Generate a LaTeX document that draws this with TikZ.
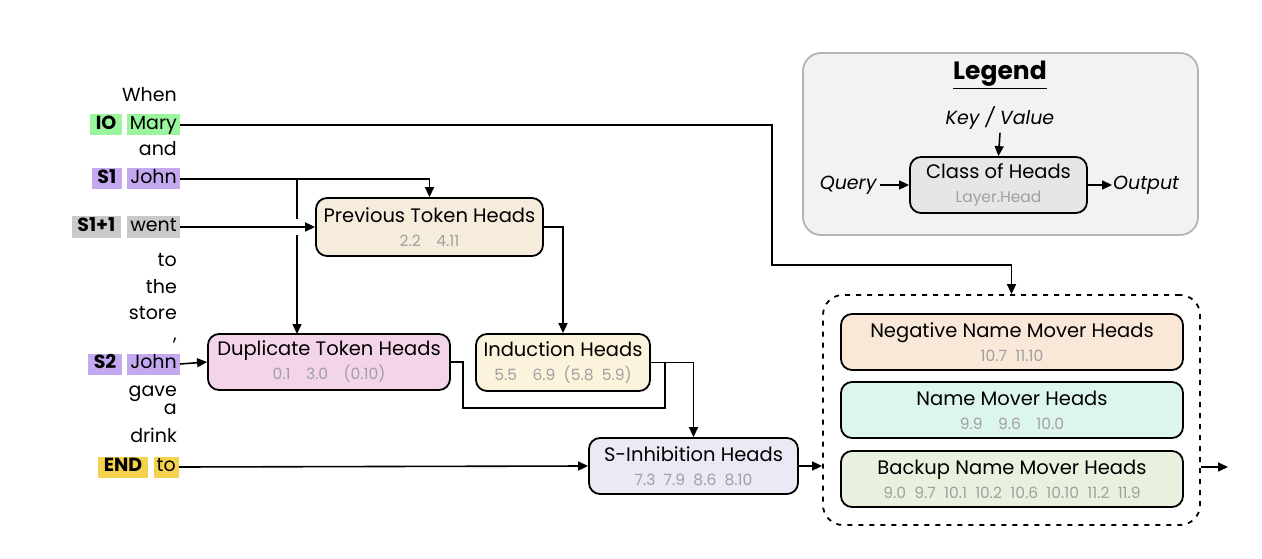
\documentclass[tikz,border=0pt]{standalone}
\usepackage{fontspec}
\setmainfont{Poppins}
\usetikzlibrary{arrows.meta}
\definecolor{numgray}{HTML}{A0A0A0}
\definecolor{ioG}{HTML}{9BF59C}
\definecolor{sP}{HTML}{C4A9F0}
\definecolor{wG}{HTML}{C9C9C9}
\definecolor{endY}{HTML}{F4D24E}
\definecolor{prevF}{HTML}{F6ECDC}
\definecolor{dupF}{HTML}{F3D4E9}
\definecolor{indF}{HTML}{FBF3DB}
\definecolor{sinF}{HTML}{E9EAF4}
\definecolor{negF}{HTML}{F9E7D7}
\definecolor{nmF}{HTML}{DCF6EE}
\definecolor{bkF}{HTML}{E8F1DE}
\definecolor{legF}{HTML}{F2F2F2}
\definecolor{legB}{HTML}{B4B4B4}
\definecolor{clsF}{HTML}{E6E6E6}
\tikzset{
  tok/.style={anchor=east, font=\fontsize{19}{22}\selectfont, inner xsep=3pt, inner ysep=2pt, text height=13pt, text depth=4pt},
  badge/.style={tok, font=\fontsize{19}{22}\selectfont\bfseries, inner xsep=5.5pt},
  headbox/.style={draw, line width=1.8pt, rounded corners=11pt, align=center, font=\fontsize{19.5}{22}\selectfont, inner sep=0pt},
  arr/.style={-{Triangle[length=10pt,width=9pt]}, line width=1.6pt},
  ln/.style={line width=1.6pt},
}
\newcommand{\nums}[1]{\\[2pt]{\color{numgray}\fontsize{15.5}{17}\selectfont #1}}
\begin{document}
\begin{tikzpicture}[x=1pt,y=-1pt]
\useasboundingbox (0,0) rectangle (1262,559);
% tokens
\node[tok] (w1) at (180,97) {When};
\node[tok, fill=ioG] (mary) at (180,125) {Mary};
\node[badge, fill=ioG] (io) at (122,125) {IO};
\node[tok] (and) at (180,151) {and};
\node[tok, fill=sP] (john1) at (180,179) {John};
\node[badge, fill=sP] (s1) at (122,179) {S1};
\node[tok, fill=wG] (went) at (180,227) {went};
\node[badge, fill=wG] (s1p) at (121,227) {S1+1};
\node[tok] (to1) at (180,262) {to};
\node[tok] (the) at (180,289) {the};
\node[tok] (store) at (180,315) {store};
\node[tok] (comma) at (180,336) {,};
\node[tok, fill=sP] (john2) at (180,364) {John};
\node[badge, fill=sP] (s2) at (122,364) {S2};
\node[tok] (gave) at (180,392) {gave};
\node[tok] (a) at (180,410) {a};
\node[tok] (drink) at (180,438) {drink};
\node[tok, fill=endY] (to2) at (179,467) {to};
\node[badge, fill=endY] (endb) at (148,467) {END};

% head boxes
\node[headbox, fill=prevF, minimum width=227pt, minimum height=58pt] (prev) at (429.5,227) {Previous Token Heads\nums{2.2\quad 4.11}};
\node[headbox, fill=dupF, minimum width=242pt, minimum height=56pt] (dup) at (329,362) {Duplicate Token Heads\nums{0.1\quad 3.0\quad (0.10)}};
\node[headbox, fill=indF, minimum width=174pt, minimum height=57pt] (ind) at (563,362.5) {Induction Heads\nums{5.5\quad 6.9\ \ (5.8\ \ 5.9)}};
\node[headbox, fill=sinF, minimum width=209pt, minimum height=56pt] (sin) at (693.5,466) {S-Inhibition Heads\nums{7.3\ \ 7.9\ \ 8.6\ \ 8.10}};

% dashed group
\node[draw, line width=1.8pt, dash pattern=on 5pt off 6pt, rounded corners=20pt, minimum width=377pt, minimum height=230pt] (grp) at (1011.5,410) {};
\node[headbox, fill=negF, minimum width=342pt, minimum height=56pt] (neg) at (1012,342) {Negative Name Mover Heads\nums{10.7\ \ 11.10}};
\node[headbox, fill=nmF, minimum width=342pt, minimum height=56pt] (nm) at (1012,410) {Name Mover Heads\nums{9.9\quad 9.6\quad 10.0}};
\node[headbox, fill=bkF, minimum width=342pt, minimum height=56pt] (bk) at (1012,479) {Backup Name Mover Heads\nums{9.0\ \ 9.7\ \ 10.1\ \ 10.2\ \ 10.6\ \ 10.10\ \ 11.2\ \ 11.9}};
\coordinate (outend) at (1228,467);

% legend
\node[draw=legB, fill=legF, line width=1.8pt, rounded corners=18pt, minimum width=395pt, minimum height=182pt] (leg) at (1000.5,144) {};
\node[font=\fontsize{25}{28}\selectfont\bfseries] (legt) at (1000,75) {\underline{Legend}};
\node[font=\fontsize{19}{22}\selectfont\itshape] (kv) at (1000,118) {Key / Value};
\node[headbox, fill=clsF, minimum width=177pt, minimum height=56pt] (cls) at (998.5,185) {Class of Heads\nums{Layer.Head}};
\node[font=\fontsize{19}{22}\selectfont\itshape, anchor=east] (qry) at (880,185) {Query};
\node[font=\fontsize{19}{22}\selectfont\itshape, anchor=west, inner xsep=1pt] (outp) at (1112,185) {Output};

% connectors
\draw[arr] (kv.south) -- (cls.north);
\draw[arr] (qry.east) -- (cls.west);
\draw[arr] (cls.east) -- (outp.west);

\draw[arr] (mary.east) -| (772,265) -| (grp.north);
\draw[arr] (john1.east) -| (prev.north);
\draw[ln] (297,179) -- (297,219);
\draw[arr] (297,235) -- (297,334);
\draw[arr] (went.east) -- (prev.west);
\draw[arr] (prev.east) -| (ind.north);
\draw[arr] (john2.east) -- (dup.west);
\draw[ln] (dup.east) -| (463,408) -| (665,363);
\draw[arr] (ind.east) -| (sin.north);
\draw[arr] (to2.east) -- (sin.west);
\draw[arr] (sin.east) -- (grp.west |- sin.east);
\draw[arr] (grp.east |- outend) -- (outend);
\end{tikzpicture}
\end{document}
